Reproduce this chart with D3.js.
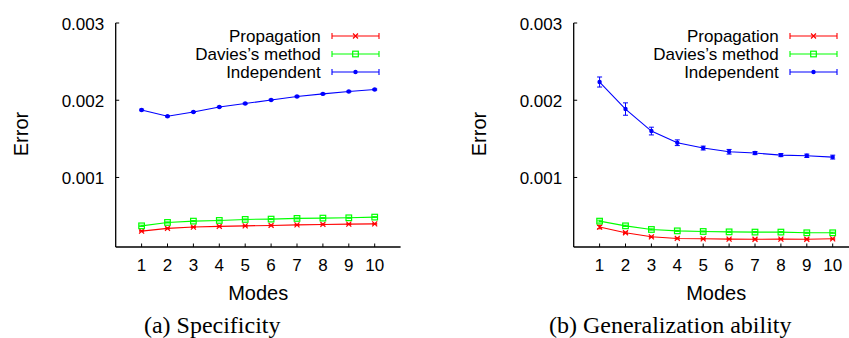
<!DOCTYPE html>
<html>
<head>
<meta charset="utf-8">
<script src="https://cdn.jsdelivr.net/npm/d3@7"></script>
<style>
body { margin: 0; background: #fff; }
text { font-family: "Liberation Sans", Arial, sans-serif; fill: #000; }
.caption { font-family: "Liberation Serif", "Times New Roman", serif; }
</style>
</head>
<body>
<div id="chart"></div>
<script>
var modes = [1, 2, 3, 4, 5, 6, 7, 8, 9, 10];
var yTicks = [0.001, 0.002, 0.003];
var seriesNames = ['Propagation', 'Davies’s method', 'Independent'];
var seriesColors = ['#ff0000', '#00ff00', '#0000ff'];
var seriesMarks = ['cross', 'square', 'dot'];

// (a) Specificity
var specProp = [0.000306, 0.000341, 0.000358, 0.000367, 0.000374, 0.000379, 0.000387, 0.000392, 0.000396, 0.000400];
var specDavies = [0.000374, 0.000418, 0.000435, 0.000444, 0.000457, 0.000461, 0.000470, 0.000474, 0.000478, 0.000487];
var specIndep = [0.001874, 0.001792, 0.001848, 0.001913, 0.001957, 0.002004, 0.002048, 0.002082, 0.002113, 0.002139];
var specPropErr = [0.000008, 0.000007, 0.000006, 0.000006, 0.000006, 0.000006, 0.000006, 0.000006, 0.000006, 0.000006];
var specDaviesErr = [0.000008, 0.000007, 0.000007, 0.000006, 0.000006, 0.000006, 0.000006, 0.000006, 0.000006, 0.000006];
var specIndepErr = [0.000010, 0.000008, 0.000008, 0.000008, 0.000008, 0.000008, 0.000008, 0.000008, 0.000008, 0.000008];

// (b) Generalization ability
var genProp = [0.000358, 0.000284, 0.000232, 0.000211, 0.000206, 0.000202, 0.000200, 0.000202, 0.000200, 0.000206];
var genDavies = [0.000435, 0.000374, 0.000327, 0.000309, 0.000301, 0.000296, 0.000293, 0.000293, 0.000284, 0.000284];
var genIndep = [0.002236, 0.001886, 0.001601, 0.001450, 0.001381, 0.001333, 0.001316, 0.001290, 0.001281, 0.001264];
var genPropErr = [0.000022, 0.000010, 0.000008, 0.000008, 0.000007, 0.000007, 0.000007, 0.000007, 0.000007, 0.000007];
var genDaviesErr = [0.000012, 0.000008, 0.000008, 0.000007, 0.000007, 0.000007, 0.000007, 0.000007, 0.000007, 0.000007];
var genIndepErr = [0.000065, 0.000080, 0.000050, 0.000037, 0.000025, 0.000030, 0.000020, 0.000020, 0.000022, 0.000025];

var width = 849, height = 338;

var svg = d3.select('#chart')
    .append('svg')
    .attr('width', width)
    .attr('height', height);

// y scale shared by both panels
var y = d3.scaleLinear()
    .domain([0.0001, 0.003])
    .range([247, 23]);

function drawMark(g, kind, cx, cy, color) {
    if (kind === 'cross') {
        g.append('path')
            .attr('d', 'M' + (cx - 2.5) + ',' + (cy - 2.5) + 'L' + (cx + 2.5) + ',' + (cy + 2.5) +
                'M' + (cx - 2.5) + ',' + (cy + 2.5) + 'L' + (cx + 2.5) + ',' + (cy - 2.5))
            .attr('stroke', color)
            .attr('stroke-width', 1.2)
            .attr('fill', 'none');
    } else if (kind === 'square') {
        g.append('rect')
            .attr('x', cx - 2.8)
            .attr('y', cy - 2.8)
            .attr('width', 5.6)
            .attr('height', 5.6)
            .attr('stroke', color)
            .attr('stroke-width', 1.2)
            .attr('fill', 'none');
    } else {
        g.append('circle')
            .attr('cx', cx)
            .attr('cy', cy)
            .attr('r', 2.2)
            .attr('fill', color);
    }
}

/**
 * one panel of the figure
 * @param {*} left x position of the y axis
 */
function drawPanel(left, caption, values, errors) {
    var x = d3.scaleLinear()
        .domain([0, 11])
        .range([left, left + 284.9]);

    var g = svg.append('g');

    // axes: left and bottom only, ticks inside
    g.append('line')
        .attr('x1', x(0)).attr('x2', x(0))
        .attr('y1', y.range()[0]).attr('y2', y.range()[1])
        .attr('stroke', '#000').attr('stroke-width', 1.3);
    g.append('line')
        .attr('x1', x(0)).attr('x2', x(11))
        .attr('y1', y.range()[0]).attr('y2', y.range()[0])
        .attr('stroke', '#000').attr('stroke-width', 1.3);

    yTicks.forEach(function (t) {
        g.append('line')
            .attr('x1', x(0)).attr('x2', x(0) + 3.5)
            .attr('y1', y(t)).attr('y2', y(t))
            .attr('stroke', '#000').attr('stroke-width', 1);
        g.append('text')
            .attr('x', x(0) - 11.5)
            .attr('y', y(t) + 6.5)
            .attr('text-anchor', 'end')
            .style('font-size', '17px')
            .text(d3.format('.3f')(t));
    });

    modes.forEach(function (m) {
        g.append('line')
            .attr('x1', x(m)).attr('x2', x(m))
            .attr('y1', y.range()[0]).attr('y2', y.range()[0] - 3.5)
            .attr('stroke', '#000').attr('stroke-width', 1);
        g.append('text')
            .attr('x', x(m))
            .attr('y', 271)
            .attr('text-anchor', 'middle')
            .style('font-size', '17px')
            .text(m);
    });

    g.append('text')
        .attr('x', (x(0) + x(11)) / 2)
        .attr('y', 299.5)
        .attr('text-anchor', 'middle')
        .style('font-size', '20px')
        .text('Modes');

    g.append('text')
        .attr('transform', 'translate(' + (x(0) - 87.3) + ',134) rotate(-90)')
        .attr('text-anchor', 'middle')
        .style('font-size', '20px')
        .text('Error');

    g.append('text')
        .attr('class', 'caption')
        .attr('x', x(0) + 96.5)
        .attr('y', 332.5)
        .attr('text-anchor', 'middle')
        .style('font-size', '24px')
        .text(caption);

    var line = d3.line()
        .x(function (d, i) { return x(modes[i]); })
        .y(function (d) { return y(d); });

    values.forEach(function (vals, s) {
        var color = seriesColors[s];
        var sg = g.append('g');
        sg.append('path')
            .attr('d', line(vals))
            .attr('fill', 'none')
            .attr('stroke', color)
            .attr('stroke-width', 1.1);
        vals.forEach(function (v, i) {
            var cx = x(modes[i]);
            var e = errors[s][i];
            sg.append('path')
                .attr('d', 'M' + cx + ',' + y(v - e) + 'V' + y(v + e) +
                    'M' + (cx - 2.5) + ',' + y(v - e) + 'H' + (cx + 2.5) +
                    'M' + (cx - 2.5) + ',' + y(v + e) + 'H' + (cx + 2.5))
                .attr('stroke', color)
                .attr('stroke-width', 1)
                .attr('fill', 'none');
            drawMark(sg, seriesMarks[s], cx, y(v), color);
        });
    });

    // legend
    seriesNames.forEach(function (name, s) {
        var ly = 36 + s * 18;
        var lx1 = left + 216.3, lx2 = left + 263.3;
        var color = seriesColors[s];
        g.append('text')
            .attr('x', left + 205)
            .attr('y', ly + 5.5)
            .attr('text-anchor', 'end')
            .style('font-size', '17px')
            .text(name);
        g.append('path')
            .attr('d', 'M' + lx1 + ',' + ly + 'H' + lx2 +
                'M' + lx1 + ',' + (ly - 3) + 'V' + (ly + 3) +
                'M' + lx2 + ',' + (ly - 3) + 'V' + (ly + 3))
            .attr('stroke', color)
            .attr('stroke-width', 1.1)
            .attr('fill', 'none');
        drawMark(g, seriesMarks[s], (lx1 + lx2) / 2, ly, color);
    });
}

drawPanel(115.7, '(a) Specificity',
    [specProp, specDavies, specIndep],
    [specPropErr, specDaviesErr, specIndepErr]);

drawPanel(573.7, '(b) Generalization ability',
    [genProp, genDavies, genIndep],
    [genPropErr, genDaviesErr, genIndepErr]);
</script>
</body>
</html>
